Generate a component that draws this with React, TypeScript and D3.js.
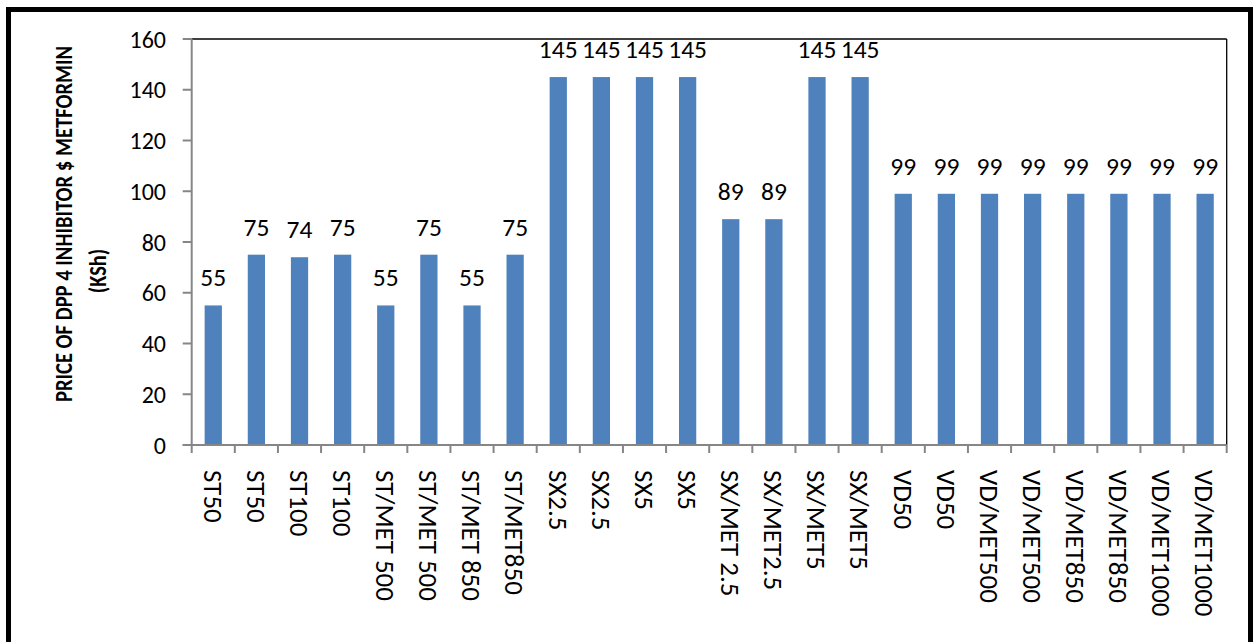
import React, { useLayoutEffect, useRef, useState } from "react";
import * as d3 from "d3";

// Product names along the x axis (some appear twice: two price points per product)
const categories: string[] = [
  "ST50", "ST50", "ST100", "ST100", "ST/MET 500", "ST/MET 500", "ST/MET 850", "ST/MET850",
  "SX2.5", "SX2.5", "SX5", "SX5", "SX/MET 2.5", "SX/MET2.5", "SX/MET5", "SX/MET5",
  "VD50", "VD50", "VD/MET500", "VD/MET500", "VD/MET850", "VD/MET850", "VD/MET1000", "VD/MET1000",
];

// Price in KSh for each product
const prices: number[] = [
  55, 75, 74, 75, 55, 75, 55, 75,
  145, 145, 145, 145, 89, 89, 145, 145,
  99, 99, 99, 99, 99, 99, 99, 99,
];

const yTicks: number[] = [0, 20, 40, 60, 80, 100, 120, 140, 160];

const titleLine1 = "PRICE OF DPP 4 INHIBITOR $ METFORMIN";
const titleLine2 = "(KSh)";

const W = 1257;
const H = 642;
const FONT = "Carlito, Calibri, Lato, 'Open Sans', sans-serif";
const BAR = "#4f81bd";
const AXIS = "#868686";
const TITLE_LEN = 356; // length of the first title line along the axis

export default function App() {
  const left = 191.7;
  const right = 1226.7;
  const top = 39;
  const bottom = 445;

  const titleRef = useRef<SVGTextElement>(null);
  const [titleScale, setTitleScale] = useState(0.8);

  useLayoutEffect(() => {
    const el = titleRef.current;
    if (el) {
      const len = el.getComputedTextLength();
      if (len > 0) setTitleScale(Math.min(1, TITLE_LEN / len));
    }
  }, []);

  const x = d3
    .scaleBand<number>()
    .domain(d3.range(categories.length))
    .range([left, right])
    .paddingInner(0.6)
    .paddingOuter(0.3);

  const y = d3.scaleLinear().domain([0, 160]).range([bottom, top]);
  const step = x.step();

  return (
    <svg
      width={W}
      height={H}
      style={{ position: "absolute", left: 0, top: 0, background: "#fff" }}
      fontFamily={FONT}
    >
      <rect x={0} y={0} width={W} height={H} fill="#fff" />
      {/* outer frame */}
      <rect x={8.5} y={9.5} width={1242} height={635} fill="none" stroke="#000" strokeWidth={5} />

      {/* plot area frame (top and right) */}
      <line x1={left} x2={right} y1={top} y2={top} stroke="#000" strokeWidth={1.3} />
      <line x1={right} x2={right} y1={top} y2={bottom} stroke="#000" strokeWidth={1.3} />

      {/* bars */}
      {prices.map((v, i) => (
        <rect
          key={"b" + i}
          x={x(i)!}
          y={y(v)}
          width={x.bandwidth()}
          height={y(0) - y(v)}
          fill={BAR}
        />
      ))}

      {/* value labels */}
      {prices.map((v, i) => (
        <text
          key={"v" + i}
          x={x(i)! + x.bandwidth() / 2}
          y={y(v) - 19}
          textAnchor="middle"
          fontSize={25.5}
          fill="#000"
        >
          {v}
        </text>
      ))}

      {/* y axis */}
      <line x1={left} x2={left} y1={top} y2={bottom} stroke={AXIS} strokeWidth={2} />
      {yTicks.map((t) => (
        <g key={"yt" + t}>
          <line x1={left - 9} x2={left} y1={y(t)} y2={y(t)} stroke={AXIS} strokeWidth={2} />
          <text
            x={166}
            y={y(t)}
            dy="0.36em"
            textAnchor="end"
            fontSize={24}
            fill="#000"
          >
            {t}
          </text>
        </g>
      ))}

      {/* x axis */}
      <line x1={left - 9} x2={right} y1={bottom} y2={bottom} stroke={AXIS} strokeWidth={2} />
      {d3.range(categories.length + 1).map((k) => (
        <line
          key={"xt" + k}
          x1={left + k * step}
          x2={left + k * step}
          y1={bottom}
          y2={bottom + 8}
          stroke={AXIS}
          strokeWidth={2}
        />
      ))}
      {categories.map((c, i) => {
        const cx = x(i)! + x.bandwidth() / 2;
        return (
          <text
            key={"xl" + i}
            transform={`translate(${cx},470) rotate(90)`}
            dy="0.36em"
            textAnchor="start"
            fontSize={27}
            fill="#000"
          >
            {c}
          </text>
        );
      })}

      {/* y axis title, condensed along its length */}
      <text
        ref={titleRef}
        transform={`translate(72,224) rotate(-90) scale(${titleScale},1)`}
        textAnchor="middle"
        fontSize={25}
        fontWeight="bold"
        fill="#000"
      >
        {titleLine1}
      </text>
      <text
        transform={`translate(106,271) rotate(-90) scale(0.85,1)`}
        textAnchor="middle"
        fontSize={24}
        fontWeight="bold"
        fill="#000"
      >
        {titleLine2}
      </text>
    </svg>
  );
}
